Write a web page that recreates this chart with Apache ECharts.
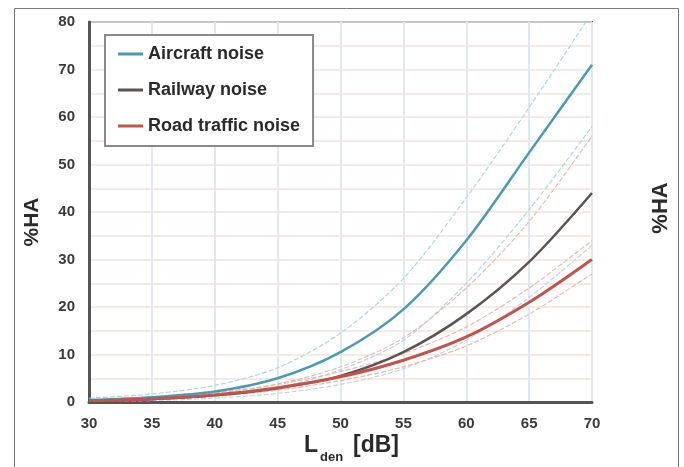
<!DOCTYPE html>
<html>
<head>
<meta charset="utf-8">
<script src="https://cdn.jsdelivr.net/npm/echarts@6/dist/echarts.min.js"></script>
<style>
  html, body { margin: 0; padding: 0; background: #fff; }
  #chart { width: 684px; height: 467px; }
</style>
</head>
<body>
<div id="chart"></div>
<script>
// Lden levels (dB) where the curves were read
const levels = [30, 35, 40, 45, 50, 55, 60, 65, 70];

// %HA, main curves
const aircraft = [0.4, 1.0, 2.2, 5.0, 10.5, 19.5, 34, 52.5, 71];
const railway  = [0.2, 0.6, 1.4, 2.9, 5.5, 10.5, 18.5, 29.5, 44];
const road     = [0.3, 0.7, 1.5, 3.0, 5.3, 8.8, 13.7, 21, 30];

// confidence bands (thin lines)
const aircraftHi = [0.8, 1.7, 3.5, 7.2, 14.5, 26, 43, 62, 82];
const aircraftLo = [0.2, 0.5, 1.2, 3, 6.8, 13, 25, 40.5, 58];
const railwayHi  = [0.4, 0.9, 1.9, 3.8, 7.4, 13.5, 24, 38, 56];
const railwayLo  = [0.1, 0.3, 0.8, 1.8, 3.7, 7, 13, 22, 33];
const roadHi     = [0.4, 0.9, 1.9, 3.7, 6.4, 10.2, 15.8, 24, 34];
const roadLo     = [0.2, 0.5, 1.2, 2.5, 4.5, 7.4, 11.8, 18.5, 27];

const names = ['Aircraft noise', 'Railway noise', 'Road traffic noise'];

const pts = arr => levels.map((x, i) => [x, arr[i]]);

function mainLine(name, arr, color, width) {
    return {
        name: name,
        type: 'line',
        data: pts(arr),
        symbol: 'none',
        smooth: 0.3,
        lineStyle: { color: color, width: width },
        itemStyle: { color: color },
        z: 5
    };
}

function bandLine(arr, color) {
    return {
        type: 'line',
        data: pts(arr),
        symbol: 'none',
        smooth: 0.3,
        silent: true,
        lineStyle: { color: color, width: 1.1, type: [5, 2] },
        z: 3
    };
}

const font = '"Liberation Sans", Arial, sans-serif';
const chart = echarts.init(document.getElementById('chart'));

chart.setOption({
    animation: false,
    backgroundColor: '#fff',
    grid: {
        left: 89, top: 22, right: 92, bottom: 65,
        show: true, borderColor: '#6a6a6a', borderWidth: 2
    },
    legend: {
        data: names,
        orient: 'vertical',
        left: 105, top: 35,
        padding: [10, 13, 11, 13],
        icon: 'rect',
        itemWidth: 25, itemHeight: 3, itemGap: 18,
        backgroundColor: '#fff',
        borderColor: '#8a8a8a', borderWidth: 2,
        textStyle: { fontFamily: font, fontSize: 18, fontWeight: 'bold', color: '#2a2a2a', lineHeight: 18 }
    },
    xAxis: {
        type: 'value', min: 30, max: 70, interval: 5,
        axisLine: { lineStyle: { color: '#555', width: 3 } },
        axisTick: { show: false },
        axisLabel: { margin: 14, fontFamily: font, fontSize: 15, fontWeight: 'bold', color: '#3a3a3a' },
        splitLine: { show: true, lineStyle: { color: '#e2e8ec', width: 2 } }
    },
    yAxis: {
        type: 'value', min: 0, max: 80, interval: 5,
        axisLine: { show: true, lineStyle: { color: '#555', width: 3 } },
        axisTick: { show: false },
        axisLabel: {
            margin: 14, fontFamily: font, fontSize: 15, fontWeight: 'bold', color: '#3a3a3a',
            formatter: v => (v % 10 === 0 ? String(v) : '')
        },
        splitLine: { show: true, lineStyle: { color: '#f3e3df', width: 1.5 } }
    },
    graphic: [
        {
            type: 'rect', left: 12, top: 6, silent: true,
            shape: { width: 664, height: 460 },
            style: { fill: 'none', stroke: '#7a7a7a', lineWidth: 1 }
        },
        {
            type: 'text', x: 32, y: 222, rotation: Math.PI / 2,
            style: { text: '%HA', fontFamily: font, fontSize: 21, fontWeight: 'bold', fill: '#2a2a2a',
                     align: 'center', verticalAlign: 'middle' }
        },
        {
            type: 'text', x: 661, y: 208, rotation: Math.PI / 2,
            style: { text: '%HA', fontFamily: font, fontSize: 22, fontWeight: 'bold', fill: '#2a2a2a',
                     align: 'center', verticalAlign: 'middle' }
        },
        {
            type: 'text', x: 304, y: 446,
            style: { text: 'L', fontFamily: font, fontSize: 23, fontWeight: 'bold', fill: '#2a2a2a',
                     align: 'left', verticalAlign: 'middle' }
        },
        {
            type: 'text', x: 320, y: 457,
            style: { text: 'den', fontFamily: font, fontSize: 13, fontWeight: 'bold', fill: '#2a2a2a',
                     align: 'left', verticalAlign: 'middle' }
        },
        {
            type: 'text', x: 353, y: 446,
            style: { text: '[dB]', fontFamily: font, fontSize: 23, fontWeight: 'bold', fill: '#2a2a2a',
                     align: 'left', verticalAlign: 'middle' }
        }
    ],
    series: [
        bandLine(aircraftHi, '#a9d3e4'),
        bandLine(aircraftLo, '#a9d3e4'),
        bandLine(railwayHi, '#e6b8b0'),
        bandLine(railwayLo, '#b9d6e2'),
        bandLine(roadHi, '#e8b4aa'),
        bandLine(roadLo, '#e8b4aa'),
        mainLine(names[0], aircraft, '#4b9ab3', 2.5),
        mainLine(names[1], railway, '#5b5452', 2.5),
        mainLine(names[2], road, '#c4544a', 3)
    ]
});
</script>
</body>
</html>
